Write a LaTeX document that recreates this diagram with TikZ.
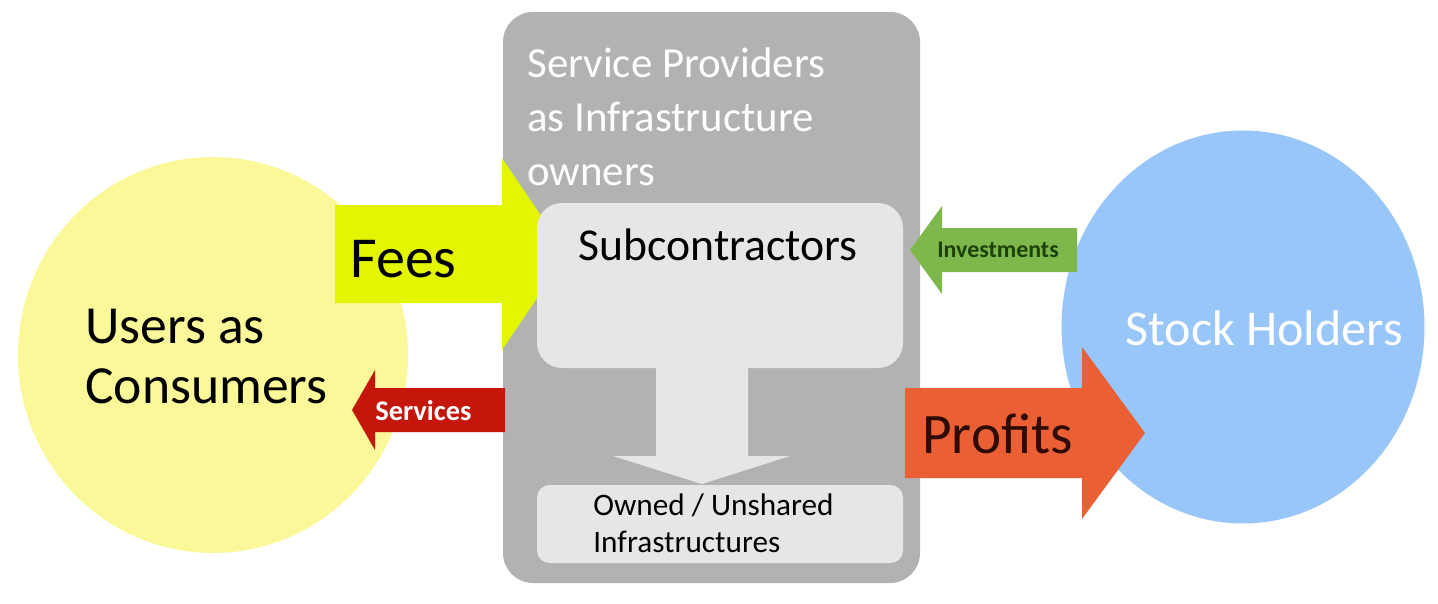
\documentclass[tikz,border=0pt]{standalone}
\usepackage{fontspec}
\setmainfont{Carlito}
\usetikzlibrary{shapes.geometric,fit}
\definecolor{usersc}{RGB}{250,248,152}
\definecolor{stockc}{RGB}{152,198,248}
\definecolor{outerc}{RGB}{178,178,178}
\definecolor{innerc}{RGB}{230,230,230}
\definecolor{feesc}{RGB}{228,245,0}
\definecolor{servc}{RGB}{196,22,10}
\definecolor{investc}{RGB}{126,184,76}
\definecolor{profc}{RGB}{234,96,52}
\definecolor{investt}{RGB}{28,66,10}
\definecolor{proft}{RGB}{48,10,4}
\tikzset{
  blob/.style={ellipse, inner sep=0pt, draw=none},
  panel/.style={inner sep=0pt, draw=none},
  lbl/.style={inner sep=0pt, anchor=base west},
}
\begin{document}
\begin{tikzpicture}[x=0.02cm,y=-0.02cm]
\path[use as bounding box, fill=white] (0,0) rectangle (1438,603);
% circles
\node[blob, fill=usersc, minimum width=7.8cm, minimum height=7.92cm] (users) at (213,355) {};
\node[blob, fill=stockc, minimum width=7.26cm, minimum height=7.86cm] (stock) at (1243,327) {};
% outer provider box
\node[panel, fill=outerc, rounded corners=0.6cm, fit={(503,12) (920,583)}] (provider) {};
% fees arrow
\fill[feesc] (335,205) -- (502,205) -- (502,158) -- (567,254) -- (502,350) -- (502,303) -- (335,303) -- cycle;
% subcontractors box
\node[panel, fill=innerc, rounded corners=0.5cm, fit={(537,203) (903,368)}] (sub) {};
% owned box
\node[panel, fill=innerc, rounded corners=0.25cm, fit={(537,485) (903,563)}] (owned) {};
% down arrow
\fill[innerc] (656,360) -- (748,360) -- (748,456) -- (790,456) -- (702,484) -- (613,456) -- (656,456) -- cycle;
% services arrow
\fill[servc] (505,388) -- (375,388) -- (375,370) -- (352,410) -- (375,450) -- (375,432) -- (505,432) -- cycle;
% investments arrow
\fill[investc] (1077,228) -- (942,228) -- (942,206) -- (910,250) -- (942,294) -- (942,272) -- (1077,272) -- cycle;
% profits arrow
\fill[profc] (905,388) -- (1082,388) -- (1082,347) -- (1145,433) -- (1082,519) -- (1082,478) -- (905,478) -- cycle;
% texts
\node[lbl, text=white, font=\fontsize{24.4}{29}\selectfont] (t1) at (527,77) {Service Providers};
\node[lbl, text=white, font=\fontsize{24.4}{29}\selectfont] (t2) at (527,131) {as Infrastructure};
\node[lbl, text=white, font=\fontsize{24.4}{29}\selectfont] (t3) at (527,185) {owners};
\node[inner sep=0pt, anchor=base, font=\fontsize{26}{30}\selectfont] (tsub) at (718,260) {Subcontractors};
\node[lbl, font=\fontsize{17.8}{21}\selectfont] (to1) at (593,515) {Owned / Unshared};
\node[lbl, font=\fontsize{17.8}{21}\selectfont] (to2) at (593,552) {Infrastructures};
\node[lbl, font=\fontsize{33}{36}\selectfont] (tfees) at (350,277) {Fees};
\node[lbl, font=\fontsize{30.5}{34}\selectfont] (tu1) at (85,343) {Users as};
\node[lbl, font=\fontsize{30.5}{34}\selectfont] (tu2) at (85,403) {Consumers};
\node[lbl, text=white, font=\bfseries\fontsize{16.2}{20}\selectfont] (tserv) at (375,420) {Services};
\node[lbl, text=investt, font=\bfseries\fontsize{13.6}{17}\selectfont] (tinv) at (937,257) {Investments};
\node[lbl, text=proft, font=\fontsize{32.6}{36}\selectfont] (tprof) at (922,453) {Profits};
\node[lbl, text=white, font=\fontsize{28.5}{32}\selectfont] (tstock) at (1125,345) {Stock Holders};
\end{tikzpicture}
\end{document}
